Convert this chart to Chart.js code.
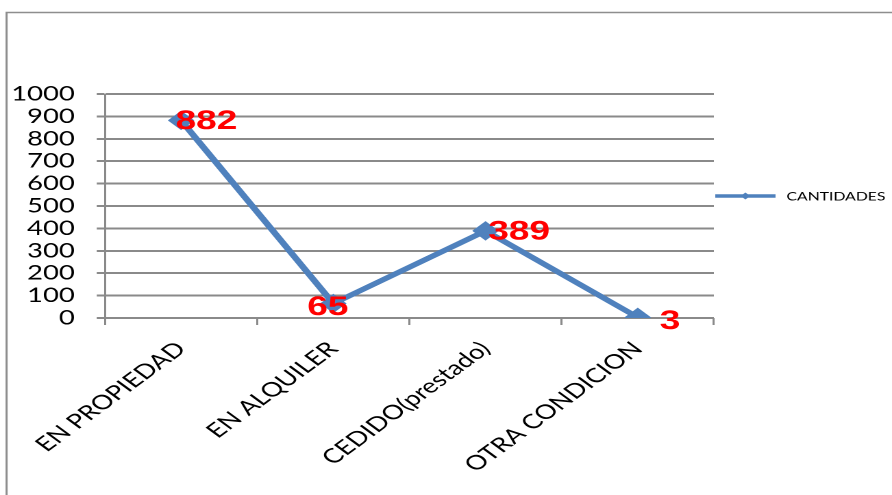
<!DOCTYPE html>
<html><head><meta charset="utf-8">
<script src="https://cdn.jsdelivr.net/npm/chart.js@4"></script>
<style>
html,body{margin:0;padding:0;background:#fff;overflow:hidden;width:892px;height:495px}
#wrap{position:absolute;left:0;top:0;width:651px;height:495px;transform:scaleX(1.3702);transform-origin:0 0}
</style></head><body><div id="wrap"><canvas id="c" width="651" height="495"></canvas></div>
<script>
// ---- data ----
const categories = ['EN PROPIEDAD', 'EN ALQUILER', 'CEDIDO(prestado)', 'OTRA CONDICION'];
const cantidades = [882, 65, 389, 3];
const seriesName = 'CANTIDADES';
const yMin = 0, yMax = 1000, yStep = 100;

// ---- styling (not data) ----
const labelOffsets = [[-4, 1], [-19, 4], [2, 1], [16, 4]];
const BLUE = '#4F81BD';
const GRID = '#8a8a8a';
const FONT = "'Liberation Sans', Arial, sans-serif";
const AXFONT = "Lato, 'Liberation Sans', sans-serif";

const deco = {
  id: 'deco',
  beforeDraw(chart) {
    const ctx = chart.ctx;
    ctx.save();
    ctx.fillStyle = '#fff';
    ctx.fillRect(0, 0, chart.width, chart.height);
    ctx.strokeStyle = '#8e8e8e';
    ctx.lineWidth = 1.5;
    ctx.beginPath();
    ctx.moveTo(4.8, chart.height + 5);
    ctx.lineTo(4.8, 12.5);
    ctx.lineTo(chart.width + 5, 12.5);
    ctx.stroke();
    ctx.restore();
  },
  afterDatasetsDraw(chart) {
    const ctx = chart.ctx;
    const meta = chart.getDatasetMeta(0);
    ctx.save();
    ctx.font = 'bold 27px ' + FONT;
    ctx.fillStyle = '#ff0000';
    ctx.textAlign = 'left';
    ctx.textBaseline = 'middle';
    meta.data.forEach((pt, i) => {
      const off = labelOffsets[i] || [4, 0];
      ctx.fillText(String(chart.data.datasets[0].data[i]), pt.x + off[0], pt.y + off[1]);
    });
    // legend
    const ca = chart.chartArea;
    const ly = 196, lx0 = ca.right + 1, lx1 = ca.right + 45;
    ctx.strokeStyle = BLUE;
    ctx.lineWidth = 3.5;
    ctx.beginPath(); ctx.moveTo(lx0, ly); ctx.lineTo(lx1, ly); ctx.stroke();
    ctx.fillStyle = BLUE;
    const cx = (lx0 + lx1) / 2, r = 3.5;
    ctx.beginPath(); ctx.moveTo(cx, ly - r); ctx.lineTo(cx + r, ly); ctx.lineTo(cx, ly + r); ctx.lineTo(cx - r, ly); ctx.closePath(); ctx.fill();
    ctx.fillStyle = '#000';
    ctx.font = '11.5px ' + AXFONT;
    ctx.textBaseline = 'middle';
    ctx.fillText(chart.data.datasets[0].label, lx1 + 8, ly + 1);
    ctx.restore();
  }
};

new Chart(document.getElementById('c'), {
  type: 'line',
  data: {
    labels: categories,
    datasets: [{
      label: seriesName,
      data: cantidades,
      borderColor: BLUE,
      backgroundColor: BLUE,
      borderWidth: 5,
      pointStyle: 'rectRot',
      pointRadius: 9,
      pointBackgroundColor: BLUE,
      pointBorderColor: BLUE,
      pointBorderWidth: 1,
      tension: 0,
      fill: false
    }]
  },
  options: {
    responsive: false,
    animation: false,
    devicePixelRatio: 2,
    layout: { padding: { left: 0, top: 94, right: 130, bottom: 0 } },
    plugins: { legend: { display: false }, tooltip: { enabled: false }, title: { display: false } },
    scales: {
      x: {
        type: 'category',
        offset: true,
        grid: { display: true, drawOnChartArea: false, drawTicks: true, tickLength: 7, offset: true, color: GRID, lineWidth: 1.5 },
        border: { display: false },
        ticks: { color: '#000', font: { family: AXFONT, size: 20 }, minRotation: 45, maxRotation: 45, autoSkip: false, padding: 12 },
        afterFit(scale) { scale.height = 177; }
      },
      y: {
        min: yMin, max: yMax,
        grid: { color: GRID, lineWidth: 2, drawTicks: true, tickLength: 6 },
        border: { display: true, color: GRID, width: 1.5 },
        ticks: { stepSize: yStep, autoSkip: false, color: '#000', font: { family: AXFONT, size: 20 }, padding: 16,
                 callback: (v) => String(v) },
        afterFit(scale) { scale.width = 76.6; }
      }
    }
  },
  plugins: [deco]
});
</script></body></html>
